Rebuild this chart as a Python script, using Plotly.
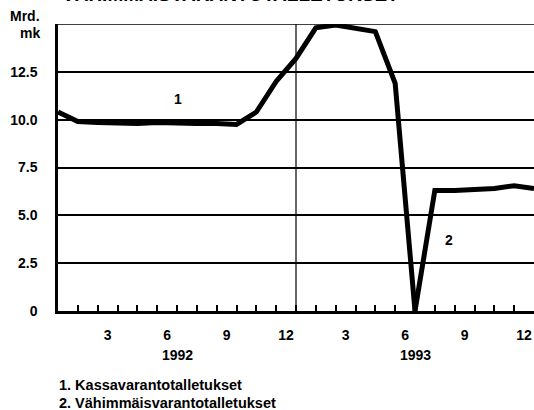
import plotly.graph_objects as go

# Data (month index 0 = start of Jan 1992, 24 = end of Dec 1993)
kassa_x = list(range(0, 19))
kassa = [10.4, 9.9, 9.85, 9.8, 9.8, 9.85, 9.8, 9.8, 9.8, 9.75, 10.4, 12.0,
         13.2, 14.8, 14.95, 14.75, 14.6, 11.9, 0.0]
vahim_x = list(range(18, 25))
vahim = [0.0, 6.3, 6.3, 6.35, 6.4, 6.55, 6.4]

month_label_pos = [2.5, 5.5, 8.5, 11.5, 14.5, 17.5, 20.5, 23.5]
month_labels = ["3", "6", "9", "12", "3", "6", "9", "12"]
year_pos = [6, 18]
year_labels = ["1992", "1993"]
y_ticks = [0, 2.5, 5, 7.5, 10, 12.5]
y_labels = ["0", "2.5", "5.0", "7.5", "10.0", "12.5"]
legend_lines = ["1. Kassavarantotalletukset", "2. Vähimmäisvarantotalletukset"]
title = "VÄHIMMÄISVARANTOTALLETUKSET"

FONT = "Liberation Sans, Arial, Helvetica, sans-serif"
PH = 287  # plot height in px


def py(pix):
    """pixel row -> paper y"""
    return (311 - pix) / PH


fig = go.Figure()
for xs, ys in [(kassa_x, kassa), (vahim_x, vahim)]:
    fig.add_trace(go.Scatter(x=xs, y=ys, mode="lines",
                             line=dict(color="black", width=5),
                             cliponaxis=False, showlegend=False,
                             hoverinfo="skip"))
fig.add_trace(go.Scatter(x=[0, 24], y=[0, 0], xaxis="x2", mode="markers",
                         marker=dict(opacity=0), showlegend=False,
                         hoverinfo="skip"))

fig.update_layout(
    width=534, height=410,
    margin=dict(l=58, r=0, t=24, b=99, autoexpand=False),
    paper_bgcolor="white", plot_bgcolor="white",
    font=dict(family=FONT, color="black", size=14),
    xaxis=dict(range=[0, 24], tickvals=list(range(1, 24)),
               showticklabels=False, ticks="inside", ticklen=6,
               tickwidth=1.5, tickcolor="black", showgrid=False,
               zeroline=False, showline=True, linecolor="black",
               linewidth=2.5, automargin=False),
    xaxis2=dict(range=[0, 24], overlaying="x", side="bottom",
                tickvals=month_label_pos,
                ticktext=[f"<b>{t}</b>" for t in month_labels],
                ticks="", showgrid=False, zeroline=False, showline=False,
                ticklabelstandoff=14, tickfont=dict(size=14),
                automargin=False),
    yaxis=dict(range=[0, 15], tickvals=y_ticks,
               ticktext=[f"<b>{t}</b>" for t in y_labels],
               ticks="", showgrid=True, gridcolor="black", gridwidth=1.5,
               zeroline=False, showline=True, linecolor="black",
               linewidth=2.5, ticklabelstandoff=15,
               tickfont=dict(size=14), automargin=False),
)

fig.add_shape(type="line", xref="paper", yref="y", x0=0, x1=1, y0=15, y1=15,
              line=dict(color="black", width=1.5))
fig.add_shape(type="line", xref="x", yref="y", x0=12, x1=12, y0=0, y1=15,
              line=dict(color="black", width=1.2))

ann = []
for xp, t in zip(year_pos, year_labels):
    ann.append(dict(x=xp, y=py(355), xref="x", yref="paper", text=f"<b>{t}</b>",
                    showarrow=False, font=dict(size=14), yanchor="middle"))
ann.append(dict(x=6.05, y=11.1, xref="x", yref="y", text="<b>1</b>",
                showarrow=False, font=dict(size=14)))
ann.append(dict(x=19.7, y=3.7, xref="x", yref="y", text="<b>2</b>",
                showarrow=False, font=dict(size=14)))
for i, t in enumerate(legend_lines):
    ann.append(dict(x=-0.002, y=py(385 + 18 * i), xref="paper",
                    yref="paper", text=f"<b>{t}</b>", showarrow=False,
                    xanchor="left", yanchor="middle", font=dict(size=14.5)))
ann.append(dict(x=-0.034, y=py(16), xref="paper", yref="paper",
                text="<b>Mrd.</b>", showarrow=False, xanchor="right",
                yanchor="middle", font=dict(size=14)))
ann.append(dict(x=-0.034, y=py(33), xref="paper", yref="paper",
                text="<b>mk</b>", showarrow=False, xanchor="right",
                yanchor="middle", font=dict(size=14)))
ann.append(dict(x=0.004, y=py(7), xref="paper", yref="paper",
                text=f"<b>{title}</b>", showarrow=False, xanchor="left",
                yanchor="bottom", font=dict(size=19)))
fig.update_layout(annotations=ann)

fig.write_html("out.html",
               config={"displayModeBar": False},
               post_script="document.body.style.margin='0';"
                           "document.body.style.overflow='hidden';")
